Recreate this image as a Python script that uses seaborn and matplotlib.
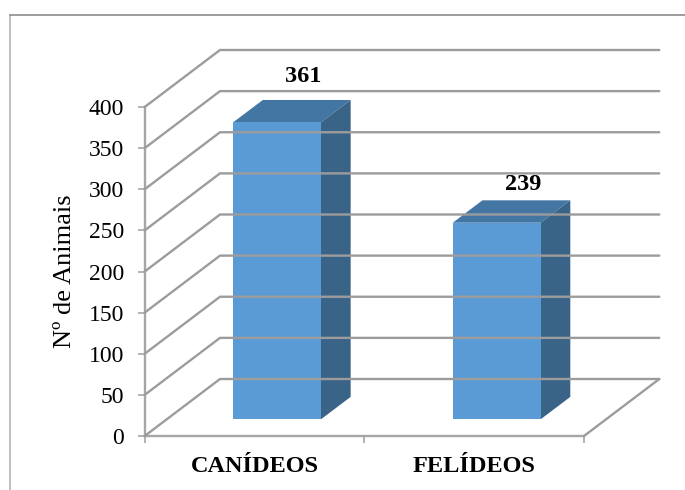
import matplotlib
matplotlib.use('Agg')
import matplotlib.pyplot as plt
from matplotlib.patches import Polygon
from matplotlib.transforms import Affine2D
import pandas as pd
import seaborn as sns

# Data
categories = ['CANÍDEOS', 'FELÍDEOS']
animals = [361, 239]
y_ticks = [0, 50, 100, 150, 200, 250, 300, 350, 400]

W, H = 685, 490
GRID = '#9c9c9c'

sns.set_theme(style='white')
plt.rcParams['font.family'] = ['Liberation Serif']

df = pd.DataFrame({'grupo': categories, 'n': animals})

fig = plt.figure(figsize=(W / 100, H / 100), dpi=100)
fig.patch.set_facecolor('white')

# outer frame of the chart (runs off the picture on the right and bottom)
fig.add_artist(plt.Line2D([10, 10], [0, H - 15], color='#b4b4b4', lw=1.2, transform=None))
fig.add_artist(plt.Line2D([10, W], [H - 15, H - 15], color='#8c8c8c', lw=1.2, transform=None))

# front plane of the fake 3D box, pixel position in the picture
left, right, top, bottom = 144.7, 584, 107, 436
ax = fig.add_axes([left / W, 1 - bottom / H, (right - left) / W, (bottom - top) / H])

sns.barplot(data=df, x='grupo', y='n', width=0.4, color='#5b9bd5', saturation=1,
            linewidth=0, ax=ax, zorder=5)
ax.set_ylim(0, 400)
ax.set_xlim(-0.5, 1.5)
ax.set_yticks(y_ticks)
ax.patch.set_alpha(0)

wall_dx, wall_dy = 75.3, 57      # depth of the walls
bar_dx, bar_dy = 22.5, 16.7      # bars stand inside the box
depth_dx, depth_dy = 29.7, 22.4  # depth of a bar
label_gap = [23, 16]             # value label above the bar top

shift = Affine2D().translate(bar_dx, bar_dy)

# back wall and side wall gridlines
for t in y_ticks:
    x0, y0 = ax.transData.transform((-0.5, t))
    x1, y1 = ax.transData.transform((1.5, t))
    fig.add_artist(plt.Line2D([x0, x0 + wall_dx, x1 + wall_dx],
                              [y0, y0 + wall_dy, y1 + wall_dy],
                              color=GRID, lw=1.7, transform=None, zorder=1))
x1, y1 = ax.transData.transform((1.5, 0))
fig.add_artist(plt.Line2D([x1, x1 + wall_dx], [y1, y1 + wall_dy],
                          color=GRID, lw=1.7, transform=None, zorder=1))

# bars: move the front face and add top and side faces
for bar, value, gap in zip(list(ax.patches), animals, label_gap):
    bar.set_transform(ax.transData + shift)
    bar.set_clip_on(False)
    bx0, by0 = (ax.transData + shift).transform((bar.get_x(), 0))
    bx1, by1 = (ax.transData + shift).transform((bar.get_x() + bar.get_width(), value))
    ax.add_patch(Polygon([(bx0, by1), (bx1, by1), (bx1 + depth_dx, by1 + depth_dy), (bx0 + depth_dx, by1 + depth_dy)],
                         closed=True, fc='#4476a3', ec='none', transform=None, clip_on=False, zorder=4))
    ax.add_patch(Polygon([(bx1, by0), (bx1, by1), (bx1 + depth_dx, by1 + depth_dy), (bx1 + depth_dx, by0 + depth_dy)],
                         closed=True, fc='#3a6388', ec='none', transform=None, clip_on=False, zorder=4))
    ax.text((bx0 + bx1) / 2 + depth_dx - 3.5, by1 + depth_dy + gap, str(value), transform=None,
            ha='center', va='center', fontsize=17.5, fontweight='bold', color='black', zorder=6)

# axes look
for s in ['top', 'right']:
    ax.spines[s].set_visible(False)
for s in ['left', 'bottom']:
    ax.spines[s].set_color('#a6a6a6')
    ax.spines[s].set_linewidth(1.7)
    ax.spines[s].set_zorder(3)
ax.set_xticks([-0.5, 0.5, 1.5])
ax.set_xticklabels([])
ax.tick_params(axis='both', which='major', length=5, width=1.2, color='#a6a6a6', bottom=True, left=True)
ax.tick_params(axis='y', labelsize=17, pad=10, labelcolor='black')
ax.set_xlabel('')
ax.set_ylabel('Nº de Animais', fontsize=19, color='black', labelpad=9)

for i, name in enumerate(categories):
    ax.text(i, -0.085, name, transform=ax.get_xaxis_transform(), ha='center', va='center_baseline',
            fontsize=17.5, fontweight='bold', color='black')

fig.savefig('out.png', dpi=100)
